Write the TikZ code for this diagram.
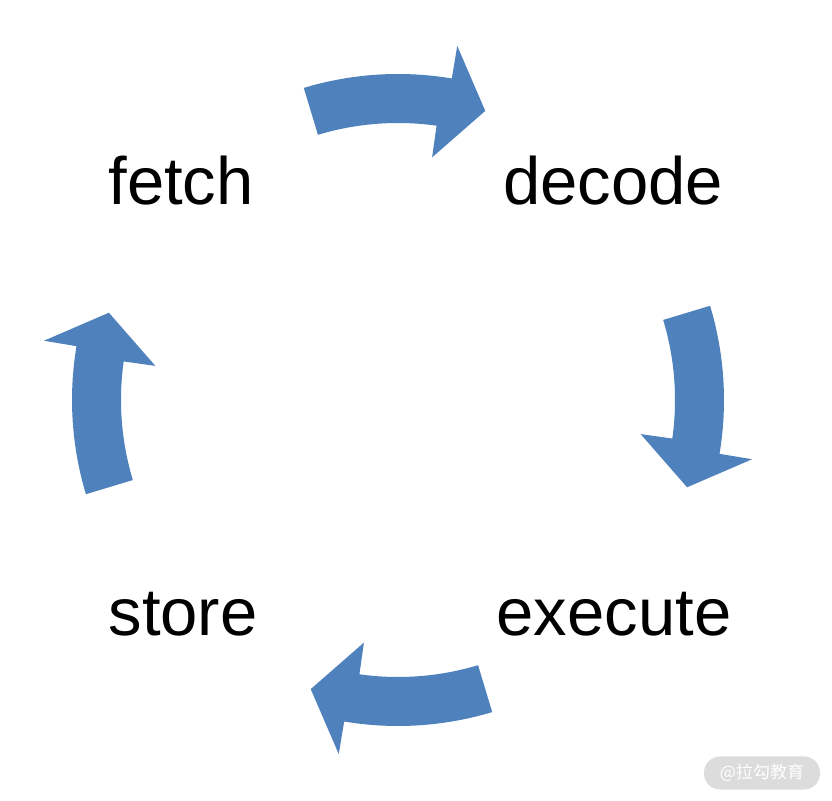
\documentclass[tikz,border=0pt]{standalone}
\usepackage{fontspec}
\setmainfont{Liberation Sans}
\newfontfamily\cjkfont{Noto Sans CJK SC}
\usepackage{tikz}
\usetikzlibrary{positioning}

\definecolor{arrowblue}{HTML}{4F81BD}
\definecolor{markgray}{HTML}{DCDCDC}

\tikzset{
  stage/.style={anchor=base,inner sep=0pt,font=\fontsize{67}{78}\selectfont},
  cyclearrow/.style={fill=arrowblue,draw=none}
}

\begin{document}
\begin{tikzpicture}[x=1pt,y=1pt]
  \useasboundingbox (0,0) rectangle (832,800);
  \coordinate (c) at (398,400);

  \node[stage] (fetch) at (181,595) {fetch};
  \node[stage] (decode) at (613,595) {decode};
  \node[stage] (execute) at (614,164) {execute};
  \node[stage] (store) at (183,164) {store};

  %curved arrows, clockwise
  \foreach \a in {90,0,-90,180}{
    \begin{scope}[shift={(c)},rotate=\a]
      \fill[cyclearrow] (16.8:326) arc[start angle=16.8,end angle=-9.5,radius=326]
        -- (-9.5:359) -- (-16.8:302) -- (-8:245) -- (-8:277)
        arc[start angle=-8,end angle=16.8,radius=277] -- cycle;
    \end{scope}
  }

  %mark
  \node[fill=markgray,rounded corners=16pt,minimum width=116pt,minimum height=33pt,
        text=white,font=\cjkfont\fontsize{17}{20}\selectfont] (mark) at (762,27) {@拉勾教育};
\end{tikzpicture}
\end{document}
